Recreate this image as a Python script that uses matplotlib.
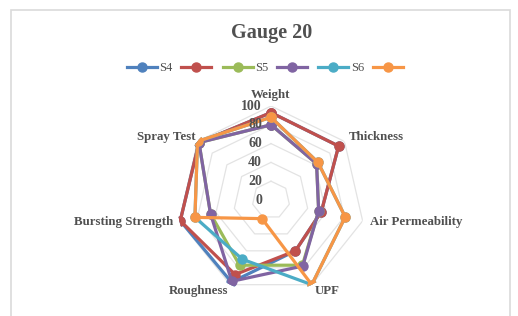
import numpy as np
import matplotlib
matplotlib.use("Agg")
import matplotlib.pyplot as plt
from matplotlib.lines import Line2D
from matplotlib.patches import Rectangle

title = "Gauge 20"
categories = ["Weight", "Thickness", "Air Permeability", "UPF",
              "Roughness", "Bursting Strength", "Spray Test"]
series_names = ["S4", "", "S5", "", "S6", ""]
s4_a = [93, 92, 55, 60, 97, 99, 98]
s4_b = [93, 92, 55, 60, 88, 99, 98]
s5_a = [80, 62, 52, 77, 77, 66, 98]
s5_b = [80, 62, 52, 78, 96, 66, 98]
s6_a = [88, 64, 81, 100, 70, 83, 100]
s6_b = [88, 64, 81, 100, 22, 83, 100]
series_values = [s4_a, s4_b, s5_a, s5_b, s6_a, s6_b]
colors = ["#4F81BD", "#C0504D", "#9BBB59", "#8064A2", "#4BACC6", "#F79646"]
radial_ticks = [0, 20, 40, 60, 80, 100]

W, H = 518, 316
fig = plt.figure(figsize=(W / 100, H / 100), dpi=100)
plt.rcParams['font.family'] = ['Liberation Serif', 'DejaVu Serif']
txt_color = "#505050"

# chart area border
fig.patches.append(Rectangle((11 / W, -0.05), (510 - 11) / W, (316 - 10) / H + 0.05,
                             transform=fig.transFigure, fill=False,
                             edgecolor="#DADADA", lw=1.2))

cx, cy, R = 271, 200, 94
ax = fig.add_axes([(cx - R) / W, (H - cy - R) / H, 2 * R / W, 2 * R / H],
                  projection="polar")
ax.set_theta_zero_location("N")
ax.set_theta_direction(-1)
ax.set_ylim(0, 100)
ax.grid(False)
ax.spines["polar"].set_visible(False)
ax.set_xticks([])
ax.set_yticks([])
ax.patch.set_alpha(0)

n = len(categories)
theta = np.arange(n) * 2 * np.pi / n
theta_c = np.append(theta, theta[0])

for t in radial_ticks[1:]:
    ax.plot(theta_c, [t] * (n + 1), color="#E3E3E3", lw=0.9, zorder=1)

for vals, col in zip(series_values, colors):
    v = np.append(vals, vals[0])
    ax.plot(theta_c, v, color=col, lw=2.3, marker="o", markersize=6.5, zorder=3)

for t in radial_ticks:
    ax.annotate(str(t), xy=(0, t), xytext=(-9, 0), textcoords="offset pixels",
                ha="right", va="center", fontsize=10, fontweight="bold",
                color=txt_color, zorder=4)

label_pos = [
    ("center", "bottom", (0, 5)),
    ("left", "center", (4, 4)),
    ("left", "center", (7, -1)),
    ("left", "center", (3, -6)),
    ("right", "center", (-2, -6)),
    ("right", "center", (-6, -1)),
    ("right", "center", (-2, 4)),
]
for th, name, (ha, va, off) in zip(theta, categories, label_pos):
    ax.annotate(name, xy=(th, 100), xytext=off, textcoords="offset pixels",
                ha=ha, va=va, fontsize=9.3, fontweight="bold", color=txt_color,
                annotation_clip=False)

fig.text(272 / W, 1 - 33 / H, title, ha="center", va="center",
         fontsize=14.5, fontweight="bold", color=txt_color)

handles = [Line2D([], [], color=c, lw=2.3, marker="o", markersize=6.5) for c in colors]
leg = fig.legend(handles, series_names, loc="center", bbox_to_anchor=(266 / W, 1 - 68 / H),
                 ncol=6, frameon=False, fontsize=9, handlelength=2.4,
                 handletextpad=0.2, columnspacing=0.7, borderpad=0)
for t in leg.get_texts():
    t.set_color(txt_color)

fig.savefig("out.png", dpi=100)
